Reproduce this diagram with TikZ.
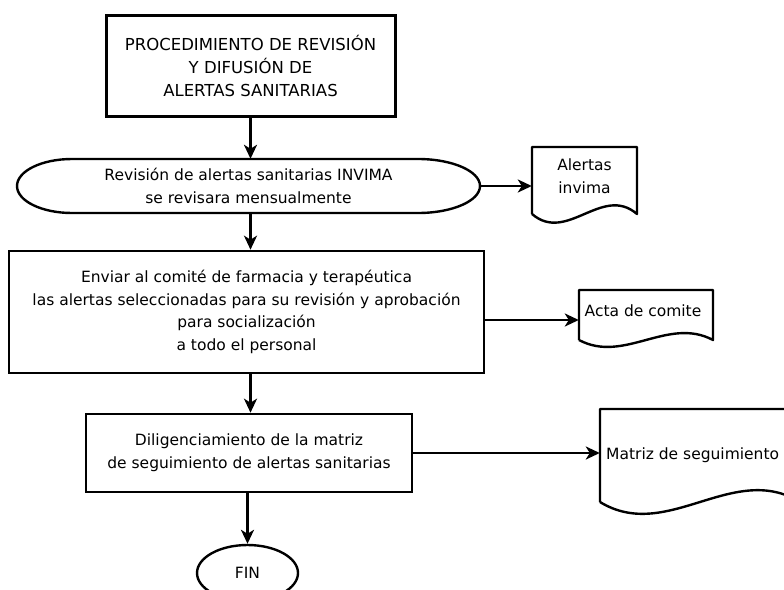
\documentclass[tikz,border=0pt]{standalone}
\usepackage{fontspec}
\setmainfont{DejaVu Sans}
\usetikzlibrary{arrows.meta,calc,shapes.geometric}
\begin{document}
\begin{tikzpicture}[x=1pt,y=-1pt,
  box/.style={draw,line width=2.6pt,rectangle,inner sep=0pt,align=center,font=\fontsize{15.5}{22.7}\selectfont},
  txt/.style={inner sep=0pt,align=center,font=\fontsize{15.5}{22.7}\selectfont},
  holder/.style={inner sep=0pt,draw=none},
  arr/.style={line width=2.5pt,-{Stealth[length=14pt,width=13pt,inset=4pt]}},
  outl/.style={line width=2.4pt,line join=round}]
\useasboundingbox (0,0) rectangle (784,589);
\clip (0,0) rectangle (784,589);

% process boxes
\node[box,line width=3pt,minimum width=289pt,minimum height=101pt,font=\fontsize{16.5}{23}\selectfont] (top) at (250.5,65.5)
  {PROCEDIMIENTO DE REVISIÓN\\Y DIFUSIÓN DE\\ALERTAS SANITARIAS};

\node[txt,minimum width=463pt,minimum height=54pt] (rev) at (248.5,186)
  {Revisión de alertas sanitarias INVIMA\\se revisara mensualmente};
\draw[outl] (77,159) -- (418,159) arc[start angle=-90,end angle=90,x radius=62,y radius=27]
  -- (72,213) arc[start angle=90,end angle=270,x radius=55,y radius=27] -- cycle;

\node[box,minimum width=475pt,minimum height=122pt] (env) at (246.5,312)
  {Enviar al comité de farmacia y terapéutica\\las alertas seleccionadas para su revisión y aprobación\\para socialización\\a todo el personal};

\node[box,minimum width=326pt,minimum height=78pt] (dil) at (249,453)
  {Diligenciamiento de la matriz\\de seguimiento de alertas sanitarias};

\node[draw,ellipse,line width=2.4pt,inner sep=0pt,minimum width=101pt,minimum height=56pt,font=\fontsize{15.5}{22.7}\selectfont] (fin) at (247.5,573) {FIN};

% documents
\node[holder,minimum width=105pt,minimum height=67pt] (ale) at (584.5,180.5) {};
\draw[outl] (532,214) -- (532,147) -- (637,147) -- (637,214) .. controls (602,184) and (567,244) .. (532,214);
\node[txt] (aletxt) at (584.5,176.5) {Alertas\\invima};

\node[holder,minimum width=134pt,minimum height=50pt] (acta) at (646,315) {};
\draw[outl] (579,340) -- (579,290) -- (713,290) -- (713,340) .. controls (668,316) and (624,364) .. (579,340);
\node[txt] (actatxt) at (643,311) {Acta de comite};

\node[holder,minimum width=200pt,minimum height=93pt] (mat) at (700,455.5) {};
\draw[outl] (600,502) -- (600,409) -- (800,409) -- (800,502) .. controls (733,461) and (667,543) .. (600,502);
\node[txt,anchor=west] (mattxt) at (606,455) {Matriz de seguimiento};

% connectors
\draw[arr] (top.south) -- (top.south |- rev.north);
\draw[arr] (top.south |- rev.south) -- (top.south |- env.north);
\draw[arr] (rev.east) -- (rev.east -| ale.west);
\coordinate (e1) at ([yshift=-8pt]env.east);
\draw[arr] (e1) -- (e1 -| acta.west);
\draw[arr] (top.south |- env.south) -- (top.south |- dil.north);
\draw[arr] (dil.east) -- (dil.east -| mat.west);
\draw[arr] (dil.south -| fin.north) -- (fin.north);
\end{tikzpicture}
\end{document}
